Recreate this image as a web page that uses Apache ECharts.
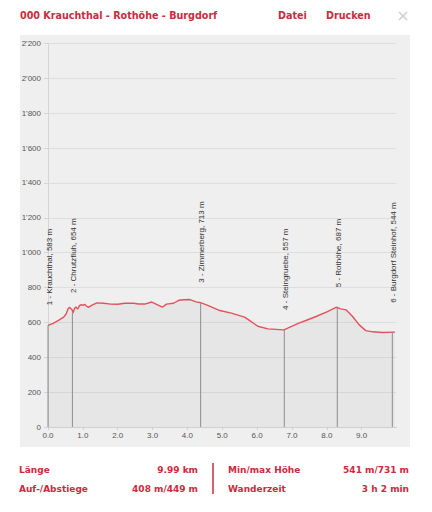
<!DOCTYPE html>
<html><head><meta charset="utf-8">
<script src="https://cdn.jsdelivr.net/npm/echarts@6/dist/echarts.min.js"></script>
<style>html,body{margin:0;padding:0;background:#fff}#c{width:432px;height:512px}</style>
</head><body><div id="c"></div>
<script>
const profileKm = [0.0,0.15,0.3,0.45,0.52,0.58,0.62,0.66,0.69,0.72,0.76,0.8,0.85,0.9,0.95,1.0,1.05,1.1,1.16,1.25,1.4,1.6,1.8,2.0,2.2,2.45,2.6,2.8,2.98,3.1,3.28,3.4,3.6,3.75,3.9,4.07,4.25,4.38,4.6,4.93,5.26,5.64,5.79,6.02,6.31,6.77,7.02,7.2,7.4,7.69,8.02,8.28,8.4,8.55,8.74,8.93,9.12,9.31,9.6,9.96];
const profileElev = [583,595,612,630,648,680,686,678,672,654,680,688,676,695,702,698,704,694,686,698,712,710,705,704,710,710,706,706,717,705,687,705,710,727,730,731,718,713,696,668,653,630,610,578,563,557,580,596,611,634,662,687,678,672,634,586,553,546,542,544];
const wpKm = [0.0,0.70,4.38,6.78,8.30,9.88];
const wpElev = [583,654,713,557,687,546];
const wpNames = ['1 - Krauchthal, 583 m','2 - Chrutzfluh, 654 m','3 - Zimmerberg, 713 m','4 - Steingruebe, 557 m','5 - Rothöhe, 687 m','6 - Burgdorf Steinhof, 544 m'];
const title = '000 Krauchthal - Rothöhe - Burgdorf';
const statLabels = ['Länge','Auf-/Abstiege','Min/max Höhe','Wanderzeit'];
const statValues = ['9.99 km','408 m/449 m','541 m/731 m','3 h 2 min'];

const red = '#cc2a3e';
const bold = 'bold 9px "DejaVu Sans", Verdana, sans-serif';
const head = 'bold 9.6px "DejaVu Sans", Verdana, sans-serif';
const chart = echarts.init(document.getElementById('c'), null, {renderer:'svg'});
chart.setOption({
  animation:false,
  backgroundColor:'#fff',
  grid:{left:48, right:35.5, top:43.5, bottom:85},
  graphic:[
    {type:'rect', z:-10, shape:{x:20,y:35,width:390,height:412}, style:{fill:'#efefef'}},
    {type:'text', x:20, y:15.5, style:{text:title, font:head, fill:red, verticalAlign:'middle'}},
    {type:'text', x:278, y:15.5, style:{text:'Datei', font:head, fill:red, verticalAlign:'middle'}},
    {type:'text', x:326, y:15.5, style:{text:'Drucken', font:head, fill:red, verticalAlign:'middle'}},
    {type:'text', x:403, y:15.5, style:{text:'×', font:'16px "DejaVu Sans", sans-serif', fill:'#cfcfcf', align:'center', verticalAlign:'middle'}},
    {type:'text', x:19, y:470, style:{text:statLabels[0], font:bold, fill:red, verticalAlign:'middle'}},
    {type:'text', x:198, y:470, style:{text:statValues[0], font:bold, fill:red, align:'right', verticalAlign:'middle'}},
    {type:'text', x:19, y:489, style:{text:statLabels[1], font:bold, fill:red, verticalAlign:'middle'}},
    {type:'text', x:198, y:489, style:{text:statValues[1], font:bold, fill:red, align:'right', verticalAlign:'middle'}},
    {type:'text', x:228, y:470, style:{text:statLabels[2], font:bold, fill:red, verticalAlign:'middle'}},
    {type:'text', x:409, y:470, style:{text:statValues[2], font:bold, fill:red, align:'right', verticalAlign:'middle'}},
    {type:'text', x:228, y:489, style:{text:statLabels[3], font:bold, fill:red, verticalAlign:'middle'}},
    {type:'text', x:409, y:489, style:{text:statValues[3], font:bold, fill:red, align:'right', verticalAlign:'middle'}},
    {type:'line', shape:{x1:213,y1:463,x2:213,y2:494}, style:{stroke:red, lineWidth:1.5}}
  ],
  xAxis:{type:'value', min:0, max:10, interval:1,
    axisLine:{show:true, lineStyle:{color:'#cfcfcf'}},
    axisTick:{show:true, length:3, lineStyle:{color:'#cfcfcf'}},
    splitLine:{show:false},
    axisLabel:{fontSize:8, color:'#555', margin:4, fontFamily:'"Liberation Sans", Arial, sans-serif',
      showMaxLabel:false, formatter:v=>v.toFixed(1)}},
  yAxis:{type:'value', min:0, max:2200, interval:200,
    axisLine:{show:true, lineStyle:{color:'#d5d5d5'}},
    axisTick:{show:true, length:4, lineStyle:{color:'#d5d5d5'}},
    splitLine:{show:true, lineStyle:{color:'#dedede'}},
    axisLabel:{fontSize:8, color:'#555', margin:7, fontFamily:'"Liberation Sans", Arial, sans-serif',
      formatter:v=> v>=1000 ? Math.floor(v/1000)+"'"+String(v%1000).padStart(3,'0') : String(v)}},
  series:[
    {type:'line', data:profileKm.map((k,i)=>[k,profileElev[i]]), symbol:'none', smooth:false,
     lineStyle:{color:'#e2525c', width:1.4}, areaStyle:{color:'rgba(0,0,0,0.05)'}, z:3},
    {type:'custom', data:wpKm.map((k,i)=>[k,wpElev[i]]), z:4,
     renderItem:function(params, api){
       const i = params.dataIndex;
       const p0 = api.coord([api.value(0),0]);
       const p1 = api.coord([api.value(0),api.value(1)]);
       const gap = i===wpKm.length-1 ? 29 : 20;
       return {type:'group', children:[
         {type:'line', shape:{x1:p0[0],y1:p0[1],x2:p1[0],y2:p1[1]}, style:{stroke:'#8c8c8c', lineWidth:1}},
         {type:'text', x:p1[0]+1, y:p1[1]-gap, rotation:Math.PI/2,
          style:{text:wpNames[i], font:'8px "Liberation Sans", Arial, sans-serif', fill:'#333', align:'left', verticalAlign:'middle'}}
       ]};
     }}
  ]
});
</script></body></html>
